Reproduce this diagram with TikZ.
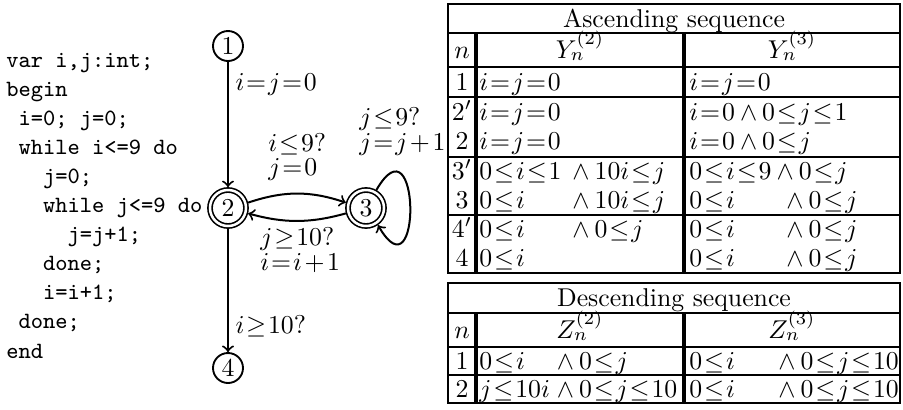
\RequirePackage{fix-cm}
\documentclass[tikz,border=0pt]{standalone}
\usepackage{fontspec}
\thickmuskip=1.3mu
\medmuskip=1.8mu
\newcommand\codeind[1]{\hspace*{#1\fontcharwd\font`x}}
\newcommand\andop{\mskip3.5mu{\wedge}\mskip3.5mu}
\newcommand\lpart[2]{\makebox[#1][l]{$#2$}}
\newcommand\wpart[1]{${\wedge}\mskip3.5mu #1$}
\tikzset{
  rm/.style={font=\fontsize{10.3}{12}\selectfont},
  codeline/.style={inner sep=0pt, anchor=base west, font=\fontsize{9.33}{11.6}\selectfont\ttfamily},
  cell/.style={rm, inner sep=0pt, anchor=base west},
  ccell/.style={rm, inner sep=0pt, anchor=base},
  state/.style={rm, circle, draw, line width=0.75pt, minimum size=12pt, inner sep=0pt},
  fstate/.style={rm, circle, draw, double, double distance=1pt, line width=0.65pt,
                 minimum size=14.4pt, inner sep=0pt, outer sep=1.15pt},
  edge/.style={->, line width=0.8pt},
  hrule/.style={line width=0.9pt},
  vrule/.style={line width=1.4pt},
  frame/.style={line width=1pt}
}
\begin{document}
\begin{tikzpicture}[x=0.4pt, y=-0.4pt]
\useasboundingbox (0,0) rectangle (903,409);

% ---------- program text ----------
\node[codeline] (c1)  at (6,67)    {var i,j:int;};
\node[codeline] (c2)  at (6,96.1)  {begin};
\node[codeline] (c3)  at (6,125.2) {\codeind{1}i=0; j=0;};
\node[codeline] (c4)  at (6,154.3) {\codeind{1}while i<=9 do};
\node[codeline] (c5)  at (6,183.4) {\codeind{3}j=0;};
\node[codeline] (c6)  at (6,212.5) {\codeind{3}while j<=9 do};
\node[codeline] (c7)  at (6,241.6) {\codeind{5}j=j+1;};
\node[codeline] (c8)  at (6,270.7) {\codeind{3}done;};
\node[codeline] (c9)  at (6,299.8) {\codeind{3}i=i+1;};
\node[codeline] (c10) at (6,328.9) {\codeind{1}done;};
\node[codeline] (c11) at (6,358)   {end};

% ---------- control flow graph ----------
\node[state]  (n1) at (228,46)  {1};
\node[fstate] (n2) at (228,208) {2};
\node[fstate] (n3) at (366,208) {3};
\node[state]  (n4) at (228,368) {4};

\draw[edge] (n1) -- (n2);
\draw[edge] (n2) -- (n4);
\draw[edge] (n2.15) .. controls +(36,-12) and +(-36,-12) .. (n3.165);
\draw[edge] (n3.195) .. controls +(-36,10) and +(36,10) .. (n2.-15);
\draw[edge] (n3.60) .. controls +(44,-76) and +(44,76) .. (n3.-55);

\node[cell] (l12) at (235,90)  {$i=j=0$};
\node[cell] (l24) at (235,333) {$i\ge 10?$};
\node[cell] (l23a) at (268,151) {$i\le 9?$};
\node[cell] (l23b) at (268,175) {$j=0$};
\node[cell] (l32a) at (260,245) {$j\ge 10?$};
\node[cell] (l32b) at (260,270) {$i=i+1$};
\node[cell] (l33a) at (359,125) {$j\le 9?$};
\node[cell] (l33b) at (359,150) {$j=j+1$};

% ---------- ascending table ----------
\draw[frame] (448,4) rectangle (900,273);
\foreach \yy in {33,67,97,157,215} \draw[hrule] (448,\yy) -- (900,\yy);
\foreach \xx in {476,684} \draw[vrule] (\xx,33) -- (\xx,273);

\node[ccell] (ah) at (674,27) {Ascending sequence};
\node[ccell] (an) at (462,58) {$n$};
\node[ccell] (ay2) at (580,58) {$Y_n^{(2)}$};
\node[ccell] (ay3) at (792,58) {$Y_n^{(3)}$};

\node[ccell] (a1n)  at (462,90)  {$1$};
\node[ccell] (a2pn) at (462,120) {$2'$};
\node[ccell] (a2n)  at (462,149) {$2$};
\node[ccell] (a3pn) at (462,179) {$3'$};
\node[ccell] (a3n)  at (462,208) {$3$};
\node[ccell] (a4pn) at (462,237) {$4'$};
\node[ccell] (a4n)  at (462,266) {$4$};

\node[cell] (a1a)  at (479,90)  {$i=j=0$};
\node[cell] (a2pa) at (479,120) {$i=j=0$};
\node[cell] (a2a)  at (479,149) {$i=j=0$};
\node[cell] (a3pa) at (479,179) {\lpart{37.2pt}{0\le i\le 1}\wpart{10i\le j}};
\node[cell] (a3a)  at (479,208) {\lpart{37.2pt}{0\le i}\wpart{10i\le j}};
\node[cell] (a4pa) at (479,237) {\lpart{37.2pt}{0\le i}\wpart{0\le j}};
\node[cell] (a4a)  at (479,266) {$0\le i$};

\node[cell] (a1b)  at (689,90)  {$i=j=0$};
\node[cell] (a2pb) at (689,120) {$i=0\andop 0\le j\le 1$};
\node[cell] (a2b)  at (689,149) {$i=0\andop 0\le j$};
\node[cell] (a3pb) at (689,179) {$0\le i\le 9\andop 0\le j$};
\node[cell] (a3b)  at (689,208) {\lpart{38.8pt}{0\le i}\wpart{0\le j}};
\node[cell] (a4pb) at (689,237) {\lpart{38.8pt}{0\le i}\wpart{0\le j}};
\node[cell] (a4b)  at (689,266) {\lpart{38.8pt}{0\le i}\wpart{0\le j}};

% ---------- descending table ----------
\draw[frame] (448,283) rectangle (900,403);
\foreach \yy in {313,347,375} \draw[hrule] (448,\yy) -- (900,\yy);
\foreach \xx in {476,684} \draw[vrule] (\xx,313) -- (\xx,403);

\node[ccell] (dh) at (674,306) {Descending sequence};
\node[ccell] (dn) at (462,338) {$n$};
\node[ccell] (dz2) at (580,338) {$Z_n^{(2)}$};
\node[ccell] (dz3) at (792,338) {$Z_n^{(3)}$};

\node[ccell] (d1n) at (462,369) {$1$};
\node[ccell] (d2n) at (462,397) {$2$};

\node[cell] (d1a) at (479,369) {\lpart{31pt}{0\le i}\wpart{0\le j}};
\node[cell] (d2a) at (479,397) {\lpart{31pt}{j\le 10i}\wpart{0\le j\le 10}};
\node[cell] (d1b) at (689,369) {\lpart{35.6pt}{0\le i}\wpart{0\le j\le 10}};
\node[cell] (d2b) at (689,397) {\lpart{35.6pt}{0\le i}\wpart{0\le j\le 10}};
\end{tikzpicture}
\end{document}
